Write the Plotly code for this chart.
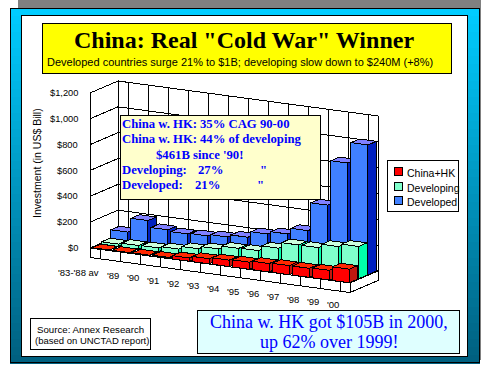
import plotly.graph_objects as go

# ---------- data ----------
categories = ["'83-'88 av", "'89", "'90", "'91", "'92", "'93", "'94", "'95", "'96", "'97", "'98", "'99", "'00"]
china_hk = [3, 4, 5, 8, 25, 40, 50, 55, 65, 70, 70, 75, 105]
developing = [18, 28, 30, 42, 65, 85, 110, 113, 153, 199, 199, 228, 250]
developed = [80, 190, 139, 128, 134, 146, 165, 211, 232, 279, 497, 844, 1005]
series_names = ["China+HK", "Developing", "Developed"]
tick_values = [0, 200, 400, 600, 800, 1000, 1200]
tick_labels = ["$0", "$200", "$400", "$600", "$800", "$1,000", "$1,200"]
y_title = "Investment (in US$ Bill)"

note_lines = [
    ("China w. HK:", 0, 0), ("35% CAG 90-00", 78, 0),
    ("China w. HK:", 0, 1), ("44% of developing", 78, 1),
    ("$461B since '90!", 34, 2),
    ("Developing:", 0, 3), ("27%", 76, 3), ('"', 138, 3),
    ("Developed:", 0, 4), ("21%", 73, 4), ('"', 135, 4),
]

# ---------- styles / scales ----------
W, H = 481, 366
SERIF = "Liberation Serif, Times New Roman, serif"
SANS = "Liberation Sans, Arial, sans-serif"
FACES = [
    dict(front="#FF0000", top="#FF2800", side="#C01810"),
    dict(front="#80FFCC", top="#CCFFDD", side="#00FFAA"),
    dict(front="#4080FF", top="#8080FF", side="#0020C0"),
]
ORIGIN = (90.0, 248.0)
CAT_DX, CAT_DY = 20.0, 35.0 / 13
DEPTH_DX, DEPTH_DY = 28.0, -12.0
VAL_PX = 155.0 / 1200
N = len(categories)
BAR_L, BAR_R = 0.10, 0.95
DEP_F, DEP_B = 0.01, 0.31
SLAB = 9.5


def P(c, d, v=0.0):
    """Oblique projection of (category position, depth 0-1, value) to page units."""
    return (ORIGIN[0] + c * CAT_DX + d * DEPTH_DX,
            ORIGIN[1] + c * CAT_DY + d * DEPTH_DY - v * VAL_PX)


fig = go.Figure()


def poly(points, fill=None, line="black", width=1):
    xs = [p[0] for p in points] + [points[0][0]]
    ys = [p[1] for p in points] + [points[0][1]]
    fig.add_trace(go.Scatter(
        x=xs, y=ys, mode="lines", fill="toself" if fill else None,
        fillcolor=fill, line=dict(color=line, width=width),
        hoverinfo="skip", showlegend=False))


def seg(a, b):
    fig.add_trace(go.Scatter(x=[a[0], b[0]], y=[a[1], b[1]], mode="lines",
                             line=dict(color="black", width=1),
                             hoverinfo="skip", showlegend=False))


top = tick_values[-1]
# walls and floor slab
poly([P(0, 0), P(0, 1), P(0, 1, top), P(0, 0, top)], "white")
poly([P(0, 1), P(N, 1), P(N, 1, top), P(0, 1, top)], "white")
poly([P(0, 0), P(N, 0), P(N, 1), P(0, 1)], "white")
for v in tick_values:
    seg(P(0, 0, v), P(0, 1, v))
    seg(P(0, 1, v), P(N, 1, v))
for i in range(N):
    seg(P(i + 0.5, 1), P(i + 0.5, 1, top))
    seg(P(i + 0.5, 0), P(i + 0.5, 1))
below = -SLAB / VAL_PX
poly([P(0, 0), P(N, 0), P(N, 0, below), P(0, 0, below)], "white")
poly([P(N, 0), P(N, 1), P(N, 1, below), P(N, 0, below)], "white")
for i in range(N):
    seg(P(i + 0.5, 0), P(i + 0.5, 0, below))

# bars: back series first, left to right
all_series = [china_hk, developing, developed]
for k in (2, 1, 0):
    vals = all_series[k]
    f = FACES[k]
    for i, v in enumerate(vals):
        l, r = i + BAR_L, i + BAR_R
        d0, d1 = (k + DEP_F * 3) / 3 + 0.0, (k + DEP_B * 3) / 3
        poly([P(r, d0), P(r, d1), P(r, d1, v), P(r, d0, v)], f["side"])
        poly([P(l, d0, v), P(r, d0, v), P(r, d1, v), P(l, d1, v)], f["top"])
        poly([P(l, d0), P(r, d0), P(r, d0, v), P(l, d0, v)], f["front"])

shapes = []
# page frame: grey shadow + gradient panel
shapes.append(dict(type="rect", x0=18, x1=W, y0=0, y1=20, fillcolor="#808080", line_width=0, layer="below"))
shapes.append(dict(type="rect", x0=470, x1=W, y0=0, y1=360, fillcolor="#808080", line_width=0, layer="below"))
STEPS = 44
PT, PB = 8, 363
for s in range(STEPS):
    t = s / (STEPS - 1)
    col = "rgb(%d,%d,%d)" % (0, round(204 - t * (204 - 96)), round(255 - t * (255 - 128)))
    shapes.append(dict(type="rect", x0=10, x1=480,
                       y0=PT + (PB - PT) * s / STEPS, y1=PT + (PB - PT) * (s + 1) / STEPS + 0.5,
                       fillcolor=col, line_width=0, layer="below"))
shapes.append(dict(type="rect", x0=10.5, x1=479.5, y0=8.5, y1=362.5, fillcolor="rgba(0,0,0,0)",
                   line=dict(color="black", width=1), layer="below"))
shapes.append(dict(type="rect", x0=21.5, x1=467.5, y0=15.5, y1=356.5, fillcolor="white",
                   line=dict(color="black", width=1), layer="below"))


def box(x0, y0, x1, y1, fill):
    shapes.append(dict(type="rect", x0=x0 + .5, x1=x1 + .5, y0=y0 + .5, y1=y1 + .5, fillcolor=fill,
                       line=dict(color="black", width=1), layer="above"))


box(42, 23, 451, 73, "#FFFF00")
box(120, 115, 320, 199, "#FFFFCC")
box(387, 160, 458, 211, "white")
box(197, 310, 459, 353, "#DFFFFF")
box(30, 318, 150, 349, "white")

annos = []


def text(x, y, s, size, family=SANS, color="black", bold=False, anchor="left", angle=0):
    annos.append(dict(x=x, y=y, xref="x", yref="y", text=("<b>%s</b>" % s) if bold else s,
                      showarrow=False, xanchor=anchor, yanchor="middle", textangle=angle,
                      borderpad=0, font=dict(family=family, size=size, color=color)))


text(244, 40, 'China: Real "Cold War" Winner', 24, SERIF, "#000000", True, "center")
text(240, 62, "Developed countries surge 21% to $1B; developing slow down to $240M (+8%)", 11, SANS, anchor="center")

for v, lab in zip(tick_values, tick_labels):
    text(78.5, P(0, 0, v)[1], lab, 9.3, anchor="right")
text(37, 163, y_title, 10.5, anchor="center", angle=-90)
for i, lab in enumerate(categories):
    px, py = P(i + 0.5, 0)
    text(px, py + 23, lab, 9.5, anchor="right")

NOTE_BLUE = "#0000FF"
for s, dx, row in note_lines:
    text(121 + dx, 124 + row * 15.3, s, 12.7, SERIF, NOTE_BLUE, True)

legend_y = [171, 186, 200.5]
for name, f, y in zip(series_names, FACES, legend_y):
    shapes.append(dict(type="rect", x0=394.5, x1=402.5, y0=y - 4, y1=y + 4, fillcolor=f["front"],
                       line=dict(color="black", width=1), layer="above"))
    text(406, y + 1.5, name, 10.5)

text(329, 322, "China w. HK got $105B in 2000,", 18, SERIF, NOTE_BLUE, False, "center")
text(329, 342, "up 62% over 1999!", 18, SERIF, NOTE_BLUE, False, "center")
text(36, 329, "Source: Annex Research", 9.7)
text(34, 340, "(based on UNCTAD report)", 9.5)

fig.update_layout(
    width=W, height=H, margin=dict(l=0, r=0, t=0, b=0), paper_bgcolor="white", plot_bgcolor="rgba(0,0,0,0)",
    showlegend=False, shapes=shapes, annotations=annos,
    xaxis=dict(range=[0, W], visible=False, fixedrange=True),
    yaxis=dict(range=[H, 0], visible=False, fixedrange=True),
)
crisp = ("document.body.style.margin='0';"
         "var st=document.createElement('style');"
         "st.textContent='path{shape-rendering:crispEdges}';"
         "document.head.appendChild(st);")
fig.write_html("out.html", config=dict(displayModeBar=False, staticPlot=True), post_script=crisp)
